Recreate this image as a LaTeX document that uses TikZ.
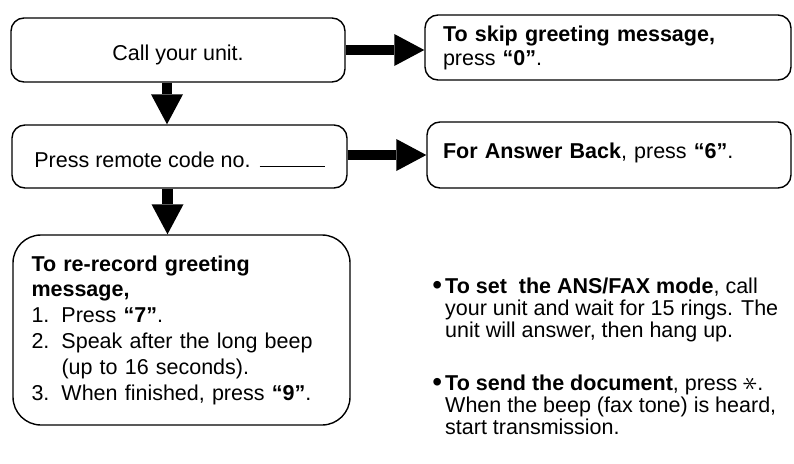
\documentclass[tikz,border=0pt]{standalone}
\usepackage{fontspec}
\setmainfont{Liberation Sans}
\usetikzlibrary{arrows.meta}
\newcommand{\bulletmark}{\llap{\raisebox{-1.5pt}{\fontsize{28}{28}\selectfont •}\kern3pt}}
\newcommand{\starkey}{\raisebox{-1pt}{\scalebox{1.45}{\rotatebox[origin=c]{90}{$\ast$}}}}
\begin{document}
\begin{tikzpicture}[x=1pt,y=-1pt,
  box/.style={draw, line width=1.4pt, rounded corners=13pt, inner sep=0pt,
    font=\fontsize{21.5}{25.8}\selectfont},
  blockarrow/.style={line width=10.5pt,
    -{Triangle[length=30pt,width=32pt,line width=0pt]}},
  para/.style={anchor=north west, inner sep=0pt, align=left,
    font=\fontsize{21.5}{22}\selectfont}]
\useasboundingbox (0,0) rectangle (794,463);

\node[box, minimum width=334pt, minimum height=64pt,
      text height=20pt, text depth=0pt] (b1) at (178,50) {Call your unit.};
\node[box, minimum width=335pt, minimum height=63pt,
      text height=21pt, text depth=0pt] (b2) at (179.5,156.5)
      {Press remote code no.\hspace{9pt}\rule{65pt}{1.3pt}};
\node[box, rounded corners=28pt, minimum width=337pt, minimum height=190pt,
      text width=300pt, align=left] (b3) at (181.5,330)
      {\textbf{To re-record greeting}\\
       \textbf{message,}\\
       \makebox[30pt][l]{1.}Press \textbf{``7''}.\\
       \makebox[30pt][l]{2.}Speak after the long beep\\
       \hspace*{30pt}(up to 16 seconds).\\
       \makebox[30pt][l]{3.}When finished, press \textbf{``9''}.};
\node[box, minimum width=366pt, minimum height=65pt,
      text width=330pt, align=left,
      font=\fontsize{21.5}{24}\selectfont] (b4) at (608,47.5)
      {\textbf{To skip greeting message,}\\ press \textbf{``0''}.};
\node[box, minimum width=364pt, minimum height=66pt,
      text width=332pt, align=left,
      text height=16pt, text depth=10pt] (b5) at (609,155)
      {\textbf{For Answer Back}, press \textbf{``6''}.};

\draw[blockarrow] ([xshift=-11pt]b1.south) -- ([xshift=-12.5pt]b2.north);
\draw[blockarrow] ([xshift=-12pt]b2.south) -- ([xshift=-14pt]b3.north);
\draw[blockarrow] (b1.east) -- (b1.east -| b4.west);
\draw[blockarrow] (b5.west -| b2.east) -- (b5.west);

\node[para] (p1) at (445,277.3)
  {\bulletmark\textbf{To set~ the ANS/FAX mode}, call\\
   your unit and wait for 15 rings. The\\
   unit will answer, then hang up.};
\node[para] (p2) at (445,374.3)
  {\bulletmark\textbf{To send the document}, press \starkey.\\
   When the beep (fax tone) is heard,\\
   start transmission.};
\end{tikzpicture}
\end{document}
